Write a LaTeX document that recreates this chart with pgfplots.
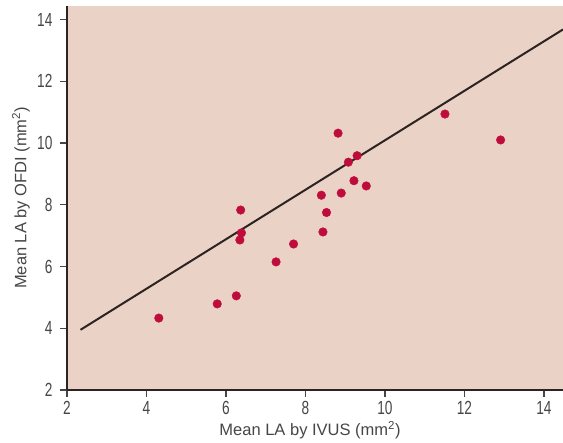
\documentclass[border=0pt]{standalone}
\usepackage{pgfplots}
\pgfplotsset{compat=1.18}
\usepackage{fontspec}
\setmainfont{Liberation Sans}
\newfontfamily\condfont[FakeStretch=0.72]{Liberation Sans}
\definecolor{bg}{RGB}{234,210,198}
\definecolor{dot}{RGB}{190,13,60}
\definecolor{txt}{RGB}{70,70,70}
\definecolor{axc}{RGB}{45,35,32}
\begin{document}
\begin{tikzpicture}[x=1pt,y=1pt]
\path[use as bounding box] (-67,-53) rectangle (496,390);
\begin{axis}[
  at={(0,0)}, anchor=south west,
  scale only axis, width=496pt, height=384.3pt,
  xmin=2, xmax=14.48, ymin=2, ymax=14.45,
  axis x line*=bottom, axis y line*=left,
  axis line style={-, line width=1.6pt, color=axc},
  axis background/.style={fill=bg},
  xtick={2,4,...,14}, ytick={2,4,...,14},
  tick align=outside, major tick length=7pt,
  tick style={line width=1.2pt, color=txt},
  /pgf/number format/assume math mode=true,
  tick label style={font={\condfont\fontsize{19}{21}\selectfont}, text=txt},
  xticklabel style={yshift=-1pt},
  yticklabel style={xshift=-4pt},
  label style={font=\fontsize{16.5}{18}\selectfont, text=txt},
  xlabel={Mean LA by IVUS (mm\textsuperscript{2})},
  ylabel={Mean LA by OFDI (mm\textsuperscript{2})},
  xlabel style={at={(axis description cs:0.49,0)}, anchor=base, yshift=-46pt},
  ylabel style={at={(axis description cs:0,0.5)}, anchor=center, xshift=0pt, yshift=46pt},
  clip=false,
]
\addplot[line width=2pt, color=axc] coordinates {(2.34,3.95) (14.48,13.68)};
\addplot[only marks, mark=*, mark size=4.3pt, color=dot, mark options={draw=dot, fill=dot}] coordinates {
(4.31,4.33) (5.78,4.79) (6.26,5.05) (6.35,6.86) (6.39,7.09) (6.37,7.83)
(7.26,6.15) (7.70,6.73) (8.44,7.12) (8.53,7.75) (8.40,8.31) (8.90,8.38)
(8.82,10.32) (9.08,9.38) (9.30,9.59) (9.22,8.78) (9.53,8.61)
(11.51,10.94) (12.91,10.10)
};
\end{axis}
\end{tikzpicture}
\end{document}
